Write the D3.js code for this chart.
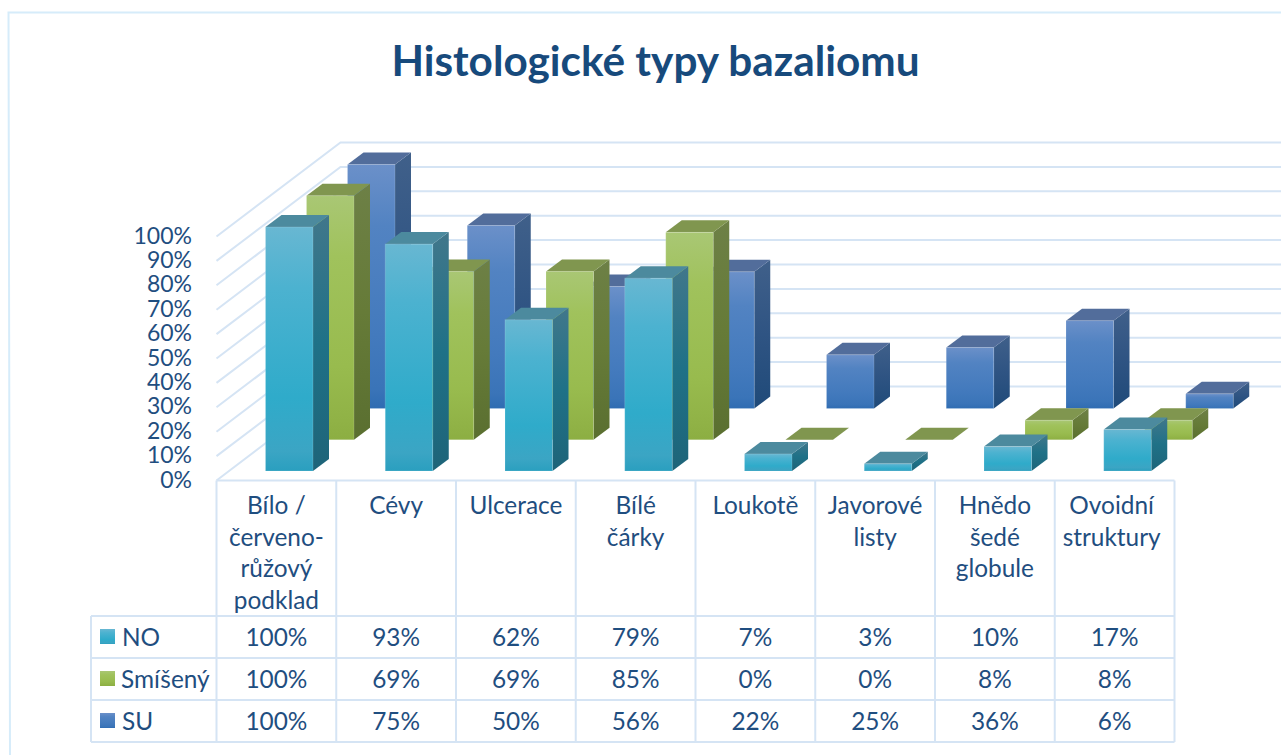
<!DOCTYPE html>
<html>
<head>
<meta charset="utf-8">
<script src="https://cdn.jsdelivr.net/npm/d3@7"></script>
<style>
  html, body { margin: 0; padding: 0; background: #fff; overflow: hidden; }
  text { font-family: Lato, "Open Sans", sans-serif; fill: #1f4e80; }
</style>
</head>
<body>
<script>
var width = 1281;
var height = 755;

// data
var categories = [
  ["Bílo /", "červeno-", "růžový", "podklad"],
  ["Cévy"],
  ["Ulcerace"],
  ["Bílé", "čárky"],
  ["Loukotě"],
  ["Javorové", "listy"],
  ["Hnědo", "šedé", "globule"],
  ["Ovoidní", "struktury"]
];
var seriesNames = ["NO", "Smíšený", "SU"];
var noValues = [100, 93, 62, 79, 7, 3, 10, 17];
var smisenyValues = [100, 69, 69, 85, 0, 0, 8, 8];
var suValues = [100, 75, 50, 56, 22, 25, 36, 6];
var seriesValues = [noValues, smisenyValues, suValues];
var yTicks = [0, 10, 20, 30, 40, 50, 60, 70, 80, 90, 100];

// colours: front stops, side stops, top face
var colors = [
  { front: ["#68b7d2", "#4cb2d0", "#2fabca", "#3ba5c4", "#2a9fbf"], side: ["#41778b", "#1f7187", "#1e6479"], top: "#4c8a9e" },
  { front: ["#a9c774", "#a0c25c", "#98bb4e", "#90b246", "#8cae42"], side: ["#6d8046", "#667b38", "#5a6f30"], top: "#80964f" },
  { front: ["#6b90c9", "#5283c2", "#437abd", "#3a74b8", "#2f6cb2"], side: ["#40608a", "#2f5483", "#1f4a79"], top: "#526d9b" }
];

var gridColor = "#d5e4f4";

// the 3d projection of the chart box
var depthX = 124;   // wall offset from the front edge
var depthY = -94;
var plotLeft = 216.5;
var catWidth = 119.75;
var barWidth = 47.5;
var sideX = 16;     // bar depth
var sideY = -12;

var xScale = d3.scaleBand()
  .domain(d3.range(categories.length))
  .range([plotLeft, plotLeft + catWidth * categories.length]);

var yScale = d3.scaleLinear().domain([0, 100]).range([480.5, 236.5]);
var barHeight = d3.scaleLinear().domain([0, 100]).range([0, 244]);

// series position along the depth axis
var seriesX = d3.scaleLinear().domain([0, 2]).range([49, 131]);
var seriesY = d3.scaleLinear().domain([0, 2]).range([471, 408.5]);

var svg = d3.select("body")
  .append("svg")
  .attr("width", width)
  .attr("height", height);

var defs = svg.append("defs");

function addGradient(id, stops) {
  var g = defs.append("linearGradient")
    .attr("id", id)
    .attr("x1", 0).attr("y1", 0).attr("x2", 0).attr("y2", 1);
  var offs = stops.length == 5 ? [0, 0.25, 0.7, 0.92, 1] : [0, 0.5, 1];
  stops.forEach(function(c, i) {
    g.append("stop").attr("offset", offs[i]).attr("stop-color", c);
  });
}

colors.forEach(function(c, i) {
  addGradient("front" + i, c.front);
  addGradient("side" + i, c.side);
});

// outer frame
svg.append("path")
  .attr("d", "M10,755L8.5,12.5H1281")
  .attr("fill", "none")
  .attr("stroke", "#d6ecfa")
  .attr("stroke-width", 2);

// title
svg.append("text")
  .attr("x", 655.5)
  .attr("y", 76)
  .attr("text-anchor", "middle")
  .attr("font-size", 42.3)
  .attr("font-weight", "bold")
  .style("fill", "#174a7c")
  .text("Histologické typy bazaliomu");

// gridlines: side wall and back wall
var grid = svg.append("g")
  .attr("fill", "none")
  .attr("stroke", gridColor)
  .attr("stroke-width", 2);

grid.selectAll("path")
  .data(yTicks)
  .enter()
  .append("path")
  .attr("d", function(d) {
    var y = yScale(d);
    return "M" + plotLeft + "," + y + "L" + (plotLeft + depthX) + "," + (y + depthY) + "H" + width;
  });

// y axis labels
svg.append("g")
  .attr("text-anchor", "end")
  .attr("font-size", 23)
  .selectAll("text")
  .data(yTicks)
  .enter()
  .append("text")
  .attr("x", 192)
  .attr("y", function(d) { return yScale(d) + 7; })
  .text(function(d) { return d + "%"; });

// bars, back series first so the front ones cover them
var bars = svg.append("g");

[2, 1, 0].forEach(function(s) {
  var g = bars.append("g");
  var rows = seriesValues[s].map(function(v, i) { return { v: v, i: i }; });

  var bar = g.selectAll("g")
    .data(rows)
    .enter()
    .append("g")
    .attr("transform", function(d) {
      return "translate(" + (xScale(d.i) + seriesX(s)) + "," + seriesY(s) + ")";
    });

  // side face
  bar.filter(function(d) { return d.v > 0; })
    .append("polygon")
    .attr("points", function(d) {
      var h = barHeight(d.v);
      return [[barWidth, 0], [barWidth + sideX, sideY], [barWidth + sideX, sideY - h], [barWidth, -h]].join(" ");
    })
    .attr("fill", "url(#side" + s + ")");

  // top face
  bar.append("polygon")
    .attr("points", function(d) {
      var h = barHeight(d.v);
      return [[0, -h], [barWidth, -h], [barWidth + sideX, sideY - h], [sideX, sideY - h]].join(" ");
    })
    .attr("fill", colors[s].top);

  // front face
  bar.filter(function(d) { return d.v > 0; })
    .append("rect")
    .attr("x", 0)
    .attr("y", function(d) { return -barHeight(d.v); })
    .attr("width", barWidth)
    .attr("height", function(d) { return barHeight(d.v); })
    .attr("fill", "url(#front" + s + ")")
    .attr("stroke", "#fff")
    .attr("stroke-opacity", 0.15);
});

// data table
var tableLeft = 91;
var tableRight = xScale.range()[1];
var tableTop = 480.5;
var headBottom = 616;
var rowHeight = 42;

var table = svg.append("g")
  .attr("fill", "none")
  .attr("stroke", gridColor)
  .attr("stroke-width", 2);

// header part
table.append("path")
  .attr("d", "M" + plotLeft + "," + tableTop + "H" + tableRight);
d3.range(categories.length + 1).forEach(function(i) {
  var x = plotLeft + catWidth * i;
  table.append("path").attr("d", "M" + x + "," + tableTop + "V" + (headBottom + rowHeight * 3));
});

// rows
d3.range(4).forEach(function(i) {
  var y = headBottom + rowHeight * i;
  table.append("path").attr("d", "M" + tableLeft + "," + y + "H" + tableRight);
});
table.append("path").attr("d", "M" + tableLeft + "," + headBottom + "V" + (headBottom + rowHeight * 3));

// category labels
var head = svg.append("g")
  .attr("text-anchor", "middle")
  .attr("font-size", 24.4);

categories.forEach(function(lines, i) {
  lines.forEach(function(line, j) {
    head.append("text")
      .attr("x", plotLeft + catWidth * (i + 0.5) - (i == 7 ? 3 : 0))
      .attr("y", 514 + j * 31.7)
      .text(line);
  });
});

// table rows with legend keys
seriesNames.forEach(function(name, s) {
  var y = headBottom + rowHeight * s;

  svg.append("rect")
    .attr("x", 100)
    .attr("y", y + 13)
    .attr("width", 15)
    .attr("height", 15)
    .attr("fill", "url(#front" + s + ")");

  svg.append("text")
    .attr("x", s == 1 ? 121 : 122)
    .attr("y", y + 29.5)
    .attr("font-size", 24.4)
    .text(name);

  seriesValues[s].forEach(function(v, i) {
    svg.append("text")
      .attr("x", plotLeft + catWidth * (i + 0.5))
      .attr("y", y + 29.5)
      .attr("text-anchor", "middle")
      .attr("font-size", 24.4)
      .text(v + "%");
  });
});
</script>
</body>
</html>
